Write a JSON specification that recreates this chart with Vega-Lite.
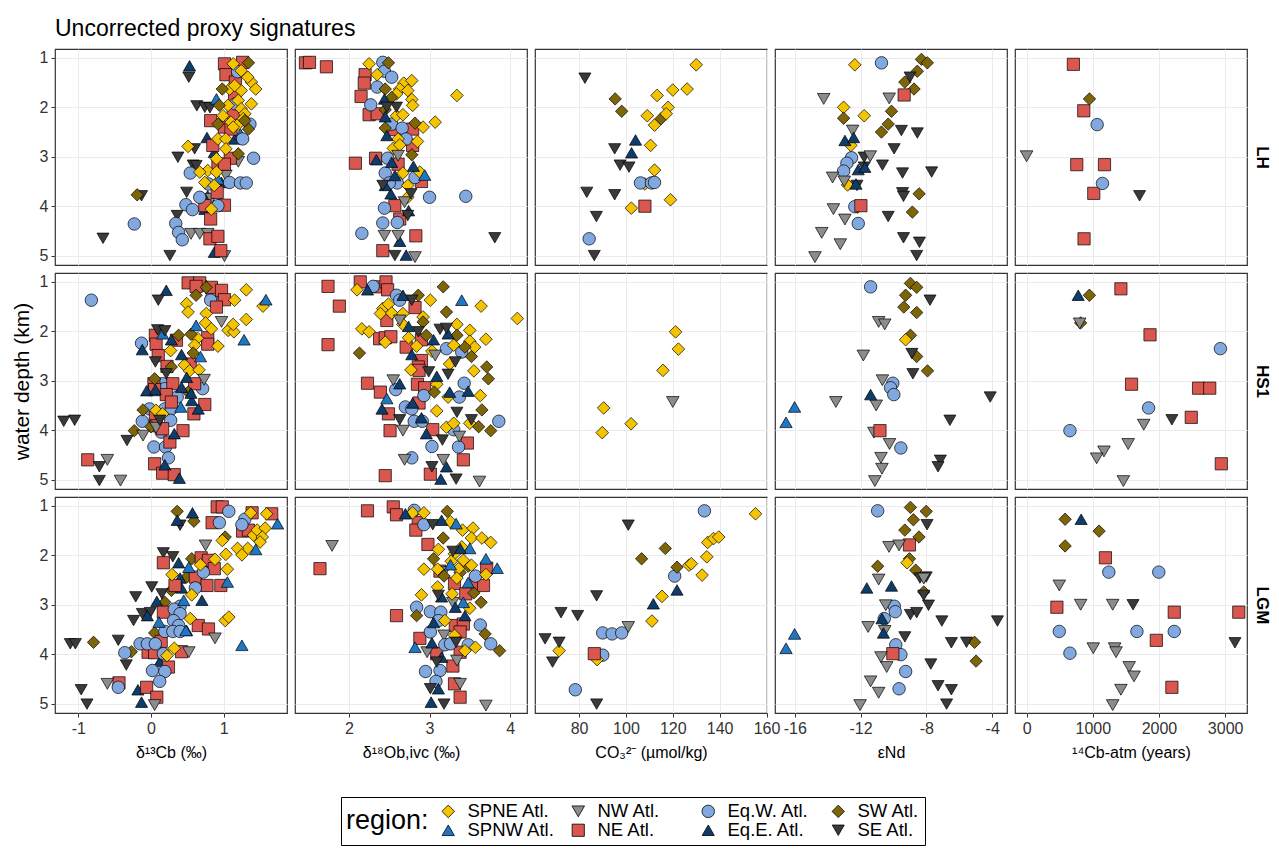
{
  "$schema": "https://vega.github.io/schema/vega-lite/v6.json",
  "padding": {"left": 10, "top": 18, "right": 5, "bottom": 0},
  "title": {"text": "Uncorrected proxy signatures", "anchor": "start", "frame": "group", "fontSize": 23, "fontWeight": "normal", "color": "black", "offset": 7},
  "columns": 5,
  "spacing": 8,
  "bounds": "flush",
  "datasets": {
    "LH_d13C": [
      {"region":"SE Atl.","value":0.52,"depth":1.39},{"region":"SE Atl.","value":0.63,"depth":1.97},{"region":"SE Atl.","value":0.74,"depth":2.0},{"region":"SE Atl.","value":0.81,"depth":2.01},{"region":"SE Atl.","value":0.37,"depth":3.01},{"region":"SE Atl.","value":0.6,"depth":2.84},{"region":"SE Atl.","value":0.58,"depth":3.17},{"region":"SE Atl.","value":0.62,"depth":3.18},{"region":"SE Atl.","value":0.49,"depth":3.72},{"region":"SE Atl.","value":-0.13,"depth":3.79},{"region":"SE Atl.","value":0.36,"depth":4.19},{"region":"SE Atl.","value":-0.66,"depth":4.65},{"region":"SE Atl.","value":0.26,"depth":5.0},
      {"region":"Eq.E. Atl.","value":0.53,"depth":1.16},{"region":"Eq.E. Atl.","value":0.77,"depth":2.61},{"region":"Eq.E. Atl.","value":1.15,"depth":2.64},{"region":"Eq.E. Atl.","value":0.87,"depth":2.91},{"region":"Eq.E. Atl.","value":0.97,"depth":3.52},{"region":"Eq.E. Atl.","value":0.74,"depth":4.06},{"region":"Eq.E. Atl.","value":0.87,"depth":4.93},{"region":"Eq.E. Atl.","value":0.78,"depth":3.79},
      {"region":"SPNW Atl.","value":0.9,"depth":1.83},{"region":"SPNW Atl.","value":1.23,"depth":2.54},{"region":"SPNW Atl.","value":0.92,"depth":3.45},
      {"region":"NW Atl.","value":1.03,"depth":3.38},{"region":"NW Atl.","value":1.2,"depth":3.1},{"region":"NW Atl.","value":0.55,"depth":4.56},{"region":"NW Atl.","value":0.67,"depth":4.56},{"region":"NW Atl.","value":0.78,"depth":4.56},{"region":"NW Atl.","value":1.01,"depth":5.01},{"region":"NW Atl.","value":0.83,"depth":3.85},
      {"region":"NE Atl.","value":1.01,"depth":1.12},{"region":"NE Atl.","value":1.26,"depth":1.09},{"region":"NE Atl.","value":1.03,"depth":1.34},{"region":"NE Atl.","value":1.16,"depth":1.49},{"region":"NE Atl.","value":1.15,"depth":1.76},{"region":"NE Atl.","value":0.82,"depth":2.27},{"region":"NE Atl.","value":1.13,"depth":2.13},{"region":"NE Atl.","value":1.01,"depth":2.4},{"region":"NE Atl.","value":1.1,"depth":2.44},{"region":"NE Atl.","value":0.85,"depth":2.77},{"region":"NE Atl.","value":1.09,"depth":3.03},{"region":"NE Atl.","value":0.92,"depth":3.15},{"region":"NE Atl.","value":1.01,"depth":3.15},{"region":"NE Atl.","value":0.91,"depth":3.72},{"region":"NE Atl.","value":1.01,"depth":3.98},{"region":"NE Atl.","value":0.74,"depth":3.99},{"region":"NE Atl.","value":0.82,"depth":4.26},{"region":"NE Atl.","value":0.81,"depth":4.66},{"region":"NE Atl.","value":0.92,"depth":4.61},{"region":"NE Atl.","value":0.96,"depth":4.9},
      {"region":"Eq.W. Atl.","value":1.19,"depth":1.28},{"region":"Eq.W. Atl.","value":1.16,"depth":1.93},{"region":"Eq.W. Atl.","value":1.36,"depth":2.34},{"region":"Eq.W. Atl.","value":1.26,"depth":2.64},{"region":"Eq.W. Atl.","value":1.41,"depth":3.03},{"region":"Eq.W. Atl.","value":0.54,"depth":3.33},{"region":"Eq.W. Atl.","value":0.79,"depth":3.55},{"region":"Eq.W. Atl.","value":1.08,"depth":3.52},{"region":"Eq.W. Atl.","value":1.23,"depth":3.53},{"region":"Eq.W. Atl.","value":1.31,"depth":3.53},{"region":"Eq.W. Atl.","value":0.67,"depth":3.82},{"region":"Eq.W. Atl.","value":0.48,"depth":3.97},{"region":"Eq.W. Atl.","value":0.57,"depth":4.07},{"region":"Eq.W. Atl.","value":0.92,"depth":3.99},{"region":"Eq.W. Atl.","value":0.34,"depth":4.35},{"region":"Eq.W. Atl.","value":0.38,"depth":4.53},{"region":"Eq.W. Atl.","value":0.43,"depth":4.68},{"region":"Eq.W. Atl.","value":-0.23,"depth":4.36},
      {"region":"SPNE Atl.","value":1.13,"depth":1.12},{"region":"SPNE Atl.","value":1.24,"depth":1.26},{"region":"SPNE Atl.","value":1.38,"depth":1.49},{"region":"SPNE Atl.","value":1.44,"depth":1.63},{"region":"SPNE Atl.","value":1.08,"depth":1.63},{"region":"SPNE Atl.","value":1.24,"depth":1.66},{"region":"SPNE Atl.","value":1.2,"depth":1.86},{"region":"SPNE Atl.","value":1.38,"depth":1.93},{"region":"SPNE Atl.","value":1.06,"depth":1.96},{"region":"SPNE Atl.","value":1.24,"depth":2.03},{"region":"SPNE Atl.","value":0.99,"depth":2.17},{"region":"SPNE Atl.","value":1.29,"depth":2.13},{"region":"SPNE Atl.","value":1.1,"depth":2.3},{"region":"SPNE Atl.","value":1.2,"depth":2.34},{"region":"SPNE Atl.","value":1.13,"depth":2.4},{"region":"SPNE Atl.","value":1.27,"depth":2.23},{"region":"SPNE Atl.","value":0.92,"depth":2.64},{"region":"SPNE Atl.","value":1.03,"depth":2.64},{"region":"SPNE Atl.","value":1.03,"depth":2.84},{"region":"SPNE Atl.","value":0.51,"depth":2.79},{"region":"SPNE Atl.","value":0.78,"depth":3.28},{"region":"SPNE Atl.","value":0.9,"depth":3.31},{"region":"SPNE Atl.","value":0.67,"depth":3.31},{"region":"SPNE Atl.","value":0.74,"depth":3.52},{"region":"SPNE Atl.","value":0.87,"depth":3.58},{"region":"SPNE Atl.","value":0.83,"depth":4.06},{"region":"SPNE Atl.","value":0.9,"depth":3.04},{"region":"SPNE Atl.","value":1.15,"depth":1.56},{"region":"SPNE Atl.","value":1.33,"depth":1.39},
      {"region":"SW Atl.","value":1.34,"depth":1.1},{"region":"SW Atl.","value":0.98,"depth":1.63},{"region":"SW Atl.","value":0.92,"depth":2.34},{"region":"SW Atl.","value":1.34,"depth":2.44},{"region":"SW Atl.","value":1.29,"depth":2.27},{"region":"SW Atl.","value":1.2,"depth":2.94},{"region":"SW Atl.","value":-0.19,"depth":3.77},{"region":"SW Atl.","value":0.94,"depth":1.96}
    ],
    "LH_d18O": [
      {"region":"NE Atl.","value":1.46,"depth":1.1},{"region":"NE Atl.","value":1.51,"depth":1.09},{"region":"NE Atl.","value":1.72,"depth":1.18},{"region":"NE Atl.","value":2.2,"depth":1.34},{"region":"NE Atl.","value":2.19,"depth":1.51},{"region":"NE Atl.","value":2.15,"depth":1.78},{"region":"NE Atl.","value":2.25,"depth":2.15},{"region":"NE Atl.","value":2.35,"depth":2.13},{"region":"NE Atl.","value":2.56,"depth":2.45},{"region":"NE Atl.","value":2.79,"depth":2.44},{"region":"NE Atl.","value":2.79,"depth":2.77},{"region":"NE Atl.","value":2.08,"depth":3.13},{"region":"NE Atl.","value":2.33,"depth":3.03},{"region":"NE Atl.","value":2.61,"depth":3.15},{"region":"NE Atl.","value":2.9,"depth":3.5},{"region":"NE Atl.","value":2.57,"depth":3.99},{"region":"NE Atl.","value":2.63,"depth":4.26},{"region":"NE Atl.","value":2.83,"depth":4.6},{"region":"NE Atl.","value":2.42,"depth":4.9},
      {"region":"Eq.W. Atl.","value":2.42,"depth":1.09},{"region":"Eq.W. Atl.","value":2.44,"depth":1.27},{"region":"Eq.W. Atl.","value":2.53,"depth":1.39},{"region":"Eq.W. Atl.","value":2.35,"depth":1.59},{"region":"Eq.W. Atl.","value":2.27,"depth":1.95},{"region":"Eq.W. Atl.","value":2.53,"depth":2.34},{"region":"Eq.W. Atl.","value":2.66,"depth":2.42},{"region":"Eq.W. Atl.","value":2.71,"depth":2.64},{"region":"Eq.W. Atl.","value":2.48,"depth":3.03},{"region":"Eq.W. Atl.","value":2.45,"depth":3.33},{"region":"Eq.W. Atl.","value":2.6,"depth":3.53},{"region":"Eq.W. Atl.","value":2.82,"depth":3.42},{"region":"Eq.W. Atl.","value":3.0,"depth":3.82},{"region":"Eq.W. Atl.","value":3.45,"depth":3.8},{"region":"Eq.W. Atl.","value":2.44,"depth":4.04},{"region":"Eq.W. Atl.","value":2.42,"depth":4.34},{"region":"Eq.W. Atl.","value":2.6,"depth":4.33},{"region":"Eq.W. Atl.","value":2.16,"depth":4.55},{"region":"Eq.W. Atl.","value":2.5,"depth":3.53},
      {"region":"SPNE Atl.","value":2.25,"depth":1.12},{"region":"SPNE Atl.","value":2.35,"depth":1.34},{"region":"SPNE Atl.","value":2.68,"depth":1.51},{"region":"SPNE Atl.","value":2.78,"depth":1.46},{"region":"SPNE Atl.","value":2.63,"depth":1.63},{"region":"SPNE Atl.","value":2.73,"depth":1.66},{"region":"SPNE Atl.","value":2.59,"depth":1.73},{"region":"SPNE Atl.","value":2.78,"depth":1.84},{"region":"SPNE Atl.","value":2.79,"depth":1.96},{"region":"SPNE Atl.","value":3.34,"depth":1.76},{"region":"SPNE Atl.","value":2.59,"depth":2.17},{"region":"SPNE Atl.","value":2.67,"depth":2.15},{"region":"SPNE Atl.","value":2.92,"depth":2.4},{"region":"SPNE Atl.","value":3.07,"depth":2.3},{"region":"SPNE Atl.","value":2.61,"depth":2.64},{"region":"SPNE Atl.","value":2.55,"depth":2.83},{"region":"SPNE Atl.","value":2.63,"depth":2.76},{"region":"SPNE Atl.","value":2.85,"depth":2.69},{"region":"SPNE Atl.","value":2.67,"depth":3.33},{"region":"SPNE Atl.","value":2.88,"depth":3.31},{"region":"SPNE Atl.","value":2.73,"depth":3.58},{"region":"SPNE Atl.","value":2.73,"depth":3.82},
      {"region":"SW Atl.","value":2.49,"depth":1.1},{"region":"SW Atl.","value":2.45,"depth":1.63},{"region":"SW Atl.","value":2.53,"depth":1.8},{"region":"SW Atl.","value":2.45,"depth":2.05},{"region":"SW Atl.","value":2.45,"depth":2.42},{"region":"SW Atl.","value":2.82,"depth":2.32},{"region":"SW Atl.","value":2.78,"depth":2.96},
      {"region":"Eq.E. Atl.","value":2.44,"depth":1.83},{"region":"Eq.E. Atl.","value":2.45,"depth":2.19},{"region":"Eq.E. Atl.","value":2.47,"depth":2.57},{"region":"Eq.E. Atl.","value":2.34,"depth":3.06},{"region":"Eq.E. Atl.","value":2.53,"depth":3.11},{"region":"Eq.E. Atl.","value":2.8,"depth":3.19},{"region":"Eq.E. Atl.","value":2.57,"depth":3.38},{"region":"Eq.E. Atl.","value":2.52,"depth":3.75},{"region":"Eq.E. Atl.","value":2.74,"depth":4.09},{"region":"Eq.E. Atl.","value":2.63,"depth":4.71},{"region":"Eq.E. Atl.","value":2.71,"depth":4.99},{"region":"Eq.E. Atl.","value":2.45,"depth":3.58},
      {"region":"SPNW Atl.","value":2.94,"depth":3.37},
      {"region":"NW Atl.","value":2.61,"depth":2.98},{"region":"NW Atl.","value":2.69,"depth":3.92},{"region":"NW Atl.","value":2.44,"depth":4.6},{"region":"NW Atl.","value":2.61,"depth":4.6},{"region":"NW Atl.","value":2.82,"depth":5.03},
      {"region":"SE Atl.","value":2.59,"depth":2.0},{"region":"SE Atl.","value":2.47,"depth":2.0},{"region":"SE Atl.","value":2.42,"depth":3.58},{"region":"SE Atl.","value":2.77,"depth":3.75},{"region":"SE Atl.","value":2.73,"depth":4.19},{"region":"SE Atl.","value":3.81,"depth":4.64},{"region":"SE Atl.","value":2.57,"depth":5.0}
    ],
    "LH_CO3": [
      {"region":"SE Atl.","value":82.5,"depth":1.41},{"region":"SE Atl.","value":95.2,"depth":2.84},{"region":"SE Atl.","value":97.5,"depth":3.17},{"region":"SE Atl.","value":101.3,"depth":3.21},{"region":"SE Atl.","value":83.3,"depth":3.72},{"region":"SE Atl.","value":95.2,"depth":3.77},{"region":"SE Atl.","value":87.4,"depth":4.21},{"region":"SE Atl.","value":86.5,"depth":5.0},
      {"region":"SW Atl.","value":95.4,"depth":1.83},{"region":"SW Atl.","value":98.2,"depth":2.08},{"region":"SW Atl.","value":115.0,"depth":2.23},
      {"region":"SPNE Atl.","value":130.0,"depth":1.14},{"region":"SPNE Atl.","value":113.3,"depth":1.76},{"region":"SPNE Atl.","value":120.0,"depth":1.65},{"region":"SPNE Atl.","value":126.1,"depth":1.63},{"region":"SPNE Atl.","value":118.0,"depth":2.0},{"region":"SPNE Atl.","value":117.2,"depth":2.13},{"region":"SPNE Atl.","value":109.1,"depth":2.17},{"region":"SPNE Atl.","value":112.2,"depth":2.36},{"region":"SPNE Atl.","value":110.5,"depth":2.77},{"region":"SPNE Atl.","value":112.2,"depth":3.27},{"region":"SPNE Atl.","value":108.1,"depth":3.55},{"region":"SPNE Atl.","value":119.0,"depth":3.87},{"region":"SPNE Atl.","value":102.3,"depth":4.04},
      {"region":"Eq.E. Atl.","value":104.1,"depth":2.66},{"region":"Eq.E. Atl.","value":102.4,"depth":2.92},
      {"region":"Eq.W. Atl.","value":106.2,"depth":3.53},{"region":"Eq.W. Atl.","value":110.9,"depth":3.53},{"region":"Eq.W. Atl.","value":112.2,"depth":3.52},{"region":"Eq.W. Atl.","value":84.3,"depth":4.66},
      {"region":"NE Atl.","value":108.1,"depth":4.0}
    ],
    "LH_eNd": [
      {"region":"SPNE Atl.","value":-12.35,"depth":1.14},{"region":"SPNE Atl.","value":-13.03,"depth":2.0},{"region":"SPNE Atl.","value":-11.78,"depth":2.17},{"region":"SPNE Atl.","value":-12.59,"depth":2.77},{"region":"SPNE Atl.","value":-12.79,"depth":3.57},{"region":"SPNE Atl.","value":-12.18,"depth":4.02},
      {"region":"Eq.W. Atl.","value":-10.73,"depth":1.1},{"region":"Eq.W. Atl.","value":-12.55,"depth":3.02},{"region":"Eq.W. Atl.","value":-12.83,"depth":3.13},{"region":"Eq.W. Atl.","value":-13.03,"depth":3.29},{"region":"Eq.W. Atl.","value":-12.35,"depth":4.01},{"region":"Eq.W. Atl.","value":-12.14,"depth":4.35},
      {"region":"SW Atl.","value":-8.3,"depth":1.03},{"region":"SW Atl.","value":-7.94,"depth":1.1},{"region":"SW Atl.","value":-8.55,"depth":1.27},{"region":"SW Atl.","value":-9.31,"depth":1.49},{"region":"SW Atl.","value":-8.75,"depth":1.63},{"region":"SW Atl.","value":-10.12,"depth":2.08},{"region":"SW Atl.","value":-13.03,"depth":2.22},{"region":"SW Atl.","value":-10.32,"depth":2.34},{"region":"SW Atl.","value":-10.73,"depth":2.5},{"region":"SW Atl.","value":-8.44,"depth":3.75},{"region":"SW Atl.","value":-8.85,"depth":4.12},
      {"region":"NE Atl.","value":-9.35,"depth":1.75},{"region":"NE Atl.","value":-11.98,"depth":3.99},
      {"region":"SE Atl.","value":-8.99,"depth":1.39},{"region":"SE Atl.","value":-9.52,"depth":2.47},{"region":"SE Atl.","value":-8.55,"depth":2.52},{"region":"SE Atl.","value":-9.96,"depth":2.84},{"region":"SE Atl.","value":-11.78,"depth":3.01},{"region":"SE Atl.","value":-11.78,"depth":3.21},{"region":"SE Atl.","value":-10.67,"depth":3.17},{"region":"SE Atl.","value":-9.45,"depth":3.33},{"region":"SE Atl.","value":-7.68,"depth":3.31},{"region":"SE Atl.","value":-9.45,"depth":3.73},{"region":"SE Atl.","value":-9.39,"depth":3.8},{"region":"SE Atl.","value":-10.32,"depth":4.21},{"region":"SE Atl.","value":-9.39,"depth":4.64},{"region":"SE Atl.","value":-8.42,"depth":4.73},{"region":"SE Atl.","value":-8.59,"depth":5.0},{"region":"SE Atl.","value":-12.22,"depth":3.58},
      {"region":"NW Atl.","value":-14.24,"depth":1.83},{"region":"NW Atl.","value":-10.26,"depth":1.82},{"region":"NW Atl.","value":-12.48,"depth":2.47},{"region":"NW Atl.","value":-11.41,"depth":2.99},{"region":"NW Atl.","value":-13.7,"depth":3.42},{"region":"NW Atl.","value":-12.99,"depth":3.5},{"region":"NW Atl.","value":-13.65,"depth":4.06},{"region":"NW Atl.","value":-12.95,"depth":4.27},{"region":"NW Atl.","value":-14.36,"depth":4.54},{"region":"NW Atl.","value":-13.23,"depth":4.77},{"region":"NW Atl.","value":-14.77,"depth":5.03},
      {"region":"Eq.E. Atl.","value":-12.95,"depth":2.67},{"region":"Eq.E. Atl.","value":-12.42,"depth":2.61},{"region":"Eq.E. Atl.","value":-12.14,"depth":3.26},{"region":"Eq.E. Atl.","value":-11.74,"depth":3.21},{"region":"Eq.E. Atl.","value":-12.28,"depth":3.55}
    ],
    "LH_14C": [
      {"region":"NE Atl.","value":707,"depth":1.13},{"region":"NE Atl.","value":864,"depth":2.07},{"region":"NE Atl.","value":758,"depth":3.16},{"region":"NE Atl.","value":1177,"depth":3.16},{"region":"NE Atl.","value":1015,"depth":3.74},{"region":"NE Atl.","value":868,"depth":4.66},
      {"region":"SW Atl.","value":950,"depth":1.83},
      {"region":"Eq.W. Atl.","value":1066,"depth":2.35},{"region":"Eq.W. Atl.","value":1146,"depth":3.54},
      {"region":"NW Atl.","value":0,"depth":2.99},
      {"region":"SE Atl.","value":1707,"depth":3.79}
    ],
    "HS1_d13C": [
      {"region":"Eq.W. Atl.","value":-0.82,"depth":1.37},{"region":"Eq.W. Atl.","value":0.71,"depth":1.07},{"region":"Eq.W. Atl.","value":0.84,"depth":1.29},{"region":"Eq.W. Atl.","value":0.82,"depth":1.37},{"region":"Eq.W. Atl.","value":-0.13,"depth":2.24},{"region":"Eq.W. Atl.","value":0.16,"depth":3.06},{"region":"Eq.W. Atl.","value":0.19,"depth":3.16},{"region":"Eq.W. Atl.","value":0.71,"depth":3.16},{"region":"Eq.W. Atl.","value":0.36,"depth":3.33},{"region":"Eq.W. Atl.","value":-0.02,"depth":3.57},{"region":"Eq.W. Atl.","value":0.19,"depth":3.57},{"region":"Eq.W. Atl.","value":0.28,"depth":3.57},{"region":"Eq.W. Atl.","value":-0.12,"depth":3.82},{"region":"Eq.W. Atl.","value":0.27,"depth":3.8},{"region":"Eq.W. Atl.","value":0.14,"depth":4.04},{"region":"Eq.W. Atl.","value":0.04,"depth":4.34},{"region":"Eq.W. Atl.","value":0.2,"depth":4.34},{"region":"Eq.W. Atl.","value":0.24,"depth":4.56},
      {"region":"NE Atl.","value":0.51,"depth":1.02},{"region":"NE Atl.","value":0.67,"depth":1.02},{"region":"NE Atl.","value":0.62,"depth":1.09},{"region":"NE Atl.","value":0.83,"depth":1.11},{"region":"NE Atl.","value":0.97,"depth":1.17},{"region":"NE Atl.","value":1.01,"depth":1.36},{"region":"NE Atl.","value":0.9,"depth":1.51},{"region":"NE Atl.","value":0.06,"depth":2.08},{"region":"NE Atl.","value":0.07,"depth":2.26},{"region":"NE Atl.","value":0.35,"depth":2.18},{"region":"NE Atl.","value":0.78,"depth":2.13},{"region":"NE Atl.","value":0.78,"depth":2.26},{"region":"NE Atl.","value":0.1,"depth":2.49},{"region":"NE Atl.","value":0.22,"depth":2.71},{"region":"NE Atl.","value":0.54,"depth":2.66},{"region":"NE Atl.","value":0.6,"depth":3.06},{"region":"NE Atl.","value":0.04,"depth":3.06},{"region":"NE Atl.","value":0.3,"depth":3.06},{"region":"NE Atl.","value":0.05,"depth":3.18},{"region":"NE Atl.","value":0.21,"depth":3.28},{"region":"NE Atl.","value":0.28,"depth":3.43},{"region":"NE Atl.","value":0.74,"depth":3.48},{"region":"NE Atl.","value":0.59,"depth":3.67},{"region":"NE Atl.","value":0.06,"depth":3.74},{"region":"NE Atl.","value":0.07,"depth":3.91},{"region":"NE Atl.","value":0.16,"depth":3.97},{"region":"NE Atl.","value":0.44,"depth":4.01},{"region":"NE Atl.","value":0.26,"depth":4.24},{"region":"NE Atl.","value":-0.87,"depth":4.6},{"region":"NE Atl.","value":0.05,"depth":4.68},{"region":"NE Atl.","value":0.16,"depth":4.87},{"region":"NE Atl.","value":0.32,"depth":4.9},
      {"region":"SPNE Atl.","value":1.31,"depth":1.16},{"region":"SPNE Atl.","value":1.15,"depth":1.37},{"region":"SPNE Atl.","value":1.54,"depth":1.49},{"region":"SPNE Atl.","value":1.31,"depth":1.76},{"region":"SPNE Atl.","value":0.49,"depth":1.44},{"region":"SPNE Atl.","value":0.51,"depth":1.61},{"region":"SPNE Atl.","value":0.76,"depth":1.64},{"region":"SPNE Atl.","value":0.75,"depth":1.83},{"region":"SPNE Atl.","value":0.83,"depth":1.95},{"region":"SPNE Atl.","value":1.06,"depth":1.98},{"region":"SPNE Atl.","value":1.14,"depth":2.01},{"region":"SPNE Atl.","value":1.13,"depth":1.86},{"region":"SPNE Atl.","value":0.64,"depth":2.14},{"region":"SPNE Atl.","value":0.6,"depth":2.28},{"region":"SPNE Atl.","value":0.92,"depth":2.3},{"region":"SPNE Atl.","value":0.27,"depth":2.39},{"region":"SPNE Atl.","value":0.46,"depth":2.68},{"region":"SPNE Atl.","value":0.53,"depth":2.8},{"region":"SPNE Atl.","value":0.66,"depth":2.78},{"region":"SPNE Atl.","value":0.07,"depth":3.6},{"region":"SPNE Atl.","value":0.16,"depth":3.67},
      {"region":"SW Atl.","value":0.62,"depth":1.27},{"region":"SW Atl.","value":0.76,"depth":1.11},{"region":"SW Atl.","value":0.38,"depth":2.08},{"region":"SW Atl.","value":0.55,"depth":2.06},{"region":"SW Atl.","value":0.58,"depth":2.44},{"region":"SW Atl.","value":0.28,"depth":2.72},{"region":"SW Atl.","value":0.05,"depth":2.96},{"region":"SW Atl.","value":0.51,"depth":3.23},{"region":"SW Atl.","value":-0.11,"depth":3.59},{"region":"SW Atl.","value":-0.23,"depth":4.01},{"region":"SW Atl.","value":0.0,"depth":3.93},
      {"region":"Eq.E. Atl.","value":0.21,"depth":1.17},{"region":"Eq.E. Atl.","value":-0.12,"depth":2.37},{"region":"Eq.E. Atl.","value":0.28,"depth":2.17},{"region":"Eq.E. Atl.","value":0.42,"depth":2.47},{"region":"Eq.E. Atl.","value":0.49,"depth":2.93},{"region":"Eq.E. Atl.","value":-0.06,"depth":3.2},{"region":"Eq.E. Atl.","value":0.06,"depth":3.18},{"region":"Eq.E. Atl.","value":0.42,"depth":3.13},{"region":"Eq.E. Atl.","value":0.56,"depth":3.4},{"region":"Eq.E. Atl.","value":0.65,"depth":3.57},{"region":"Eq.E. Atl.","value":0.32,"depth":4.07},{"region":"Eq.E. Atl.","value":0.19,"depth":4.7},{"region":"Eq.E. Atl.","value":0.39,"depth":4.97},{"region":"Eq.E. Atl.","value":0.55,"depth":3.25},
      {"region":"SPNW Atl.","value":1.58,"depth":1.36},{"region":"SPNW Atl.","value":1.28,"depth":2.17},{"region":"SPNW Atl.","value":0.68,"depth":2.51},{"region":"SPNW Atl.","value":0.62,"depth":1.88},{"region":"SPNW Atl.","value":0.16,"depth":2.05},{"region":"SPNW Atl.","value":0.41,"depth":3.53},
      {"region":"NW Atl.","value":0.97,"depth":1.81},{"region":"NW Atl.","value":0.73,"depth":2.98},{"region":"NW Atl.","value":-0.11,"depth":4.11},{"region":"NW Atl.","value":-0.6,"depth":4.6},{"region":"NW Atl.","value":-0.42,"depth":5.02},{"region":"NW Atl.","value":0.07,"depth":3.95},
      {"region":"SE Atl.","value":0.1,"depth":1.37},{"region":"SE Atl.","value":0.09,"depth":1.97},{"region":"SE Atl.","value":0.19,"depth":1.99},{"region":"SE Atl.","value":0.06,"depth":2.62},{"region":"SE Atl.","value":0.21,"depth":2.86},{"region":"SE Atl.","value":-1.2,"depth":3.82},{"region":"SE Atl.","value":-1.05,"depth":3.8},{"region":"SE Atl.","value":-0.33,"depth":4.21},{"region":"SE Atl.","value":-0.71,"depth":4.74},{"region":"SE Atl.","value":-0.71,"depth":5.02},{"region":"SE Atl.","value":0.12,"depth":3.8}
    ],
    "HS1_d18O": [
      {"region":"NE Atl.","value":1.74,"depth":1.09},{"region":"NE Atl.","value":2.14,"depth":1.0},{"region":"NE Atl.","value":2.38,"depth":1.1},{"region":"NE Atl.","value":2.46,"depth":1.0},{"region":"NE Atl.","value":2.48,"depth":1.16},{"region":"NE Atl.","value":1.88,"depth":1.49},{"region":"NE Atl.","value":2.82,"depth":1.52},{"region":"NE Atl.","value":2.47,"depth":1.78},{"region":"NE Atl.","value":2.38,"depth":2.15},{"region":"NE Atl.","value":2.45,"depth":2.13},{"region":"NE Atl.","value":2.52,"depth":2.11},{"region":"NE Atl.","value":1.74,"depth":2.27},{"region":"NE Atl.","value":2.71,"depth":2.32},{"region":"NE Atl.","value":2.9,"depth":2.17},{"region":"NE Atl.","value":2.9,"depth":2.59},{"region":"NE Atl.","value":2.86,"depth":2.72},{"region":"NE Atl.","value":2.87,"depth":2.79},{"region":"NE Atl.","value":2.23,"depth":3.05},{"region":"NE Atl.","value":2.85,"depth":3.07},{"region":"NE Atl.","value":2.94,"depth":3.14},{"region":"NE Atl.","value":2.39,"depth":3.23},{"region":"NE Atl.","value":2.87,"depth":3.45},{"region":"NE Atl.","value":2.49,"depth":3.67},{"region":"NE Atl.","value":3.04,"depth":3.99},{"region":"NE Atl.","value":2.51,"depth":4.01},{"region":"NE Atl.","value":3.47,"depth":4.26},{"region":"NE Atl.","value":3.42,"depth":4.6},{"region":"NE Atl.","value":2.45,"depth":4.92},{"region":"NE Atl.","value":3.01,"depth":4.89},
      {"region":"Eq.W. Atl.","value":2.3,"depth":1.09},{"region":"Eq.W. Atl.","value":2.59,"depth":1.27},{"region":"Eq.W. Atl.","value":2.63,"depth":1.37},{"region":"Eq.W. Atl.","value":3.4,"depth":2.42},{"region":"Eq.W. Atl.","value":3.21,"depth":2.35},{"region":"Eq.W. Atl.","value":3.43,"depth":3.05},{"region":"Eq.W. Atl.","value":2.58,"depth":3.18},{"region":"Eq.W. Atl.","value":3.37,"depth":3.33},{"region":"Eq.W. Atl.","value":2.93,"depth":3.3},{"region":"Eq.W. Atl.","value":2.7,"depth":3.53},{"region":"Eq.W. Atl.","value":2.78,"depth":3.57},{"region":"Eq.W. Atl.","value":2.81,"depth":3.82},{"region":"Eq.W. Atl.","value":2.91,"depth":3.82},{"region":"Eq.W. Atl.","value":3.3,"depth":3.99},{"region":"Eq.W. Atl.","value":3.86,"depth":3.82},{"region":"Eq.W. Atl.","value":3.03,"depth":4.33},{"region":"Eq.W. Atl.","value":3.36,"depth":4.34},{"region":"Eq.W. Atl.","value":2.78,"depth":4.56},
      {"region":"SPNE Atl.","value":2.1,"depth":1.16},{"region":"SPNE Atl.","value":3.01,"depth":1.37},{"region":"SPNE Atl.","value":3.64,"depth":1.49},{"region":"SPNE Atl.","value":4.09,"depth":1.74},{"region":"SPNE Atl.","value":2.42,"depth":1.54},{"region":"SPNE Atl.","value":2.49,"depth":1.45},{"region":"SPNE Atl.","value":2.39,"depth":1.64},{"region":"SPNE Atl.","value":2.53,"depth":1.63},{"region":"SPNE Atl.","value":2.67,"depth":1.64},{"region":"SPNE Atl.","value":2.67,"depth":1.86},{"region":"SPNE Atl.","value":2.92,"depth":1.71},{"region":"SPNE Atl.","value":3.34,"depth":1.86},{"region":"SPNE Atl.","value":2.16,"depth":1.95},{"region":"SPNE Atl.","value":2.25,"depth":2.01},{"region":"SPNE Atl.","value":2.45,"depth":2.22},{"region":"SPNE Atl.","value":2.74,"depth":2.13},{"region":"SPNE Atl.","value":2.84,"depth":2.3},{"region":"SPNE Atl.","value":3.03,"depth":2.4},{"region":"SPNE Atl.","value":3.3,"depth":2.28},{"region":"SPNE Atl.","value":3.5,"depth":1.98},{"region":"SPNE Atl.","value":3.5,"depth":2.2},{"region":"SPNE Atl.","value":3.7,"depth":2.16},{"region":"SPNE Atl.","value":3.56,"depth":2.32},{"region":"SPNE Atl.","value":3.25,"depth":2.66},{"region":"SPNE Atl.","value":3.55,"depth":2.8},{"region":"SPNE Atl.","value":2.77,"depth":2.78},{"region":"SPNE Atl.","value":3.09,"depth":3.07},{"region":"SPNE Atl.","value":3.63,"depth":3.3},{"region":"SPNE Atl.","value":3.23,"depth":3.33},{"region":"SPNE Atl.","value":3.09,"depth":3.61},{"region":"SPNE Atl.","value":3.5,"depth":3.86},{"region":"SPNE Atl.","value":3.21,"depth":3.94},{"region":"SPNE Atl.","value":3.3,"depth":3.86},
      {"region":"SW Atl.","value":3.17,"depth":1.1},{"region":"SW Atl.","value":2.86,"depth":1.27},{"region":"SW Atl.","value":3.21,"depth":1.61},{"region":"SW Atl.","value":2.92,"depth":1.81},{"region":"SW Atl.","value":2.96,"depth":2.08},{"region":"SW Atl.","value":3.34,"depth":2.08},{"region":"SW Atl.","value":3.44,"depth":2.32},{"region":"SW Atl.","value":3.52,"depth":2.51},{"region":"SW Atl.","value":2.13,"depth":2.44},{"region":"SW Atl.","value":3.71,"depth":2.72},{"region":"SW Atl.","value":3.73,"depth":2.96},{"region":"SW Atl.","value":3.06,"depth":3.23},{"region":"SW Atl.","value":3.65,"depth":3.59},{"region":"SW Atl.","value":3.61,"depth":3.93},{"region":"SW Atl.","value":3.76,"depth":4.01},
      {"region":"Eq.E. Atl.","value":2.23,"depth":1.16},{"region":"Eq.E. Atl.","value":2.67,"depth":1.27},{"region":"Eq.E. Atl.","value":2.74,"depth":1.9},{"region":"Eq.E. Atl.","value":3.05,"depth":2.17},{"region":"Eq.E. Atl.","value":3.23,"depth":2.05},{"region":"Eq.E. Atl.","value":2.78,"depth":2.47},{"region":"Eq.E. Atl.","value":3.09,"depth":2.91},{"region":"Eq.E. Atl.","value":2.63,"depth":3.06},{"region":"Eq.E. Atl.","value":3.25,"depth":3.23},{"region":"Eq.E. Atl.","value":3.48,"depth":3.21},{"region":"Eq.E. Atl.","value":2.41,"depth":3.57},{"region":"Eq.E. Atl.","value":2.79,"depth":3.45},{"region":"Eq.E. Atl.","value":2.9,"depth":3.75},{"region":"Eq.E. Atl.","value":2.96,"depth":4.07},{"region":"Eq.E. Atl.","value":3.21,"depth":4.74},{"region":"Eq.E. Atl.","value":3.14,"depth":4.99},
      {"region":"SPNW Atl.","value":3.4,"depth":1.37},{"region":"SPNW Atl.","value":2.47,"depth":3.36},
      {"region":"NW Atl.","value":2.63,"depth":1.78},{"region":"NW Atl.","value":3.07,"depth":2.49},{"region":"NW Atl.","value":2.55,"depth":2.99},{"region":"NW Atl.","value":2.67,"depth":4.01},{"region":"NW Atl.","value":3.37,"depth":4.13},{"region":"NW Atl.","value":2.69,"depth":4.6},{"region":"NW Atl.","value":3.17,"depth":4.6},{"region":"NW Atl.","value":3.62,"depth":5.04},
      {"region":"SE Atl.","value":2.78,"depth":1.37},{"region":"SE Atl.","value":2.86,"depth":2.01},{"region":"SE Atl.","value":3.13,"depth":1.96},{"region":"SE Atl.","value":3.21,"depth":1.94},{"region":"SE Atl.","value":2.99,"depth":2.82},{"region":"SE Atl.","value":3.23,"depth":2.87},{"region":"SE Atl.","value":2.63,"depth":3.79},{"region":"SE Atl.","value":3.16,"depth":4.2},{"region":"SE Atl.","value":3.34,"depth":3.64},{"region":"SE Atl.","value":3.52,"depth":3.79},{"region":"SE Atl.","value":3.03,"depth":4.74},{"region":"SE Atl.","value":3.33,"depth":4.99},{"region":"SE Atl.","value":3.32,"depth":2.62}
    ],
    "HS1_CO3": [
      {"region":"SPNE Atl.","value":121.2,"depth":2.01},{"region":"SPNE Atl.","value":122.4,"depth":2.36},{"region":"SPNE Atl.","value":115.8,"depth":2.79},{"region":"SPNE Atl.","value":90.5,"depth":3.55},{"region":"SPNE Atl.","value":102.2,"depth":3.87},{"region":"SPNE Atl.","value":89.9,"depth":4.05},
      {"region":"NW Atl.","value":120.0,"depth":3.43}
    ],
    "HS1_eNd": [
      {"region":"Eq.W. Atl.","value":-11.39,"depth":1.1},{"region":"Eq.W. Atl.","value":-10.04,"depth":3.05},{"region":"Eq.W. Atl.","value":-10.18,"depth":3.14},{"region":"Eq.W. Atl.","value":-9.98,"depth":3.28},{"region":"Eq.W. Atl.","value":-9.55,"depth":4.36},
      {"region":"SW Atl.","value":-8.97,"depth":1.03},{"region":"SW Atl.","value":-8.59,"depth":1.11},{"region":"SW Atl.","value":-9.26,"depth":1.27},{"region":"SW Atl.","value":-9.37,"depth":1.51},{"region":"SW Atl.","value":-8.59,"depth":1.62},{"region":"SW Atl.","value":-8.97,"depth":2.08},{"region":"SW Atl.","value":-8.59,"depth":2.51},{"region":"SW Atl.","value":-7.93,"depth":2.8},
      {"region":"SPNE Atl.","value":-9.26,"depth":2.17},
      {"region":"SE Atl.","value":-7.78,"depth":1.37},{"region":"SE Atl.","value":-8.88,"depth":2.45},{"region":"SE Atl.","value":-8.82,"depth":2.86},{"region":"SE Atl.","value":-4.12,"depth":3.33},{"region":"SE Atl.","value":-6.57,"depth":3.8},{"region":"SE Atl.","value":-7.15,"depth":4.61},{"region":"SE Atl.","value":-7.29,"depth":4.74},
      {"region":"NW Atl.","value":-10.9,"depth":1.81},{"region":"NW Atl.","value":-10.53,"depth":1.86},{"region":"NW Atl.","value":-11.83,"depth":2.49},{"region":"NW Atl.","value":-10.67,"depth":2.99},{"region":"NW Atl.","value":-13.5,"depth":3.43},{"region":"NW Atl.","value":-11.05,"depth":3.5},{"region":"NW Atl.","value":-11.19,"depth":4.05},{"region":"NW Atl.","value":-10.24,"depth":4.28},{"region":"NW Atl.","value":-10.76,"depth":4.56},{"region":"NW Atl.","value":-10.7,"depth":4.78},{"region":"NW Atl.","value":-11.13,"depth":5.03},
      {"region":"Eq.E. Atl.","value":-11.39,"depth":3.28},
      {"region":"SPNW Atl.","value":-16.01,"depth":3.53},{"region":"SPNW Atl.","value":-16.53,"depth":3.84},
      {"region":"NE Atl.","value":-10.82,"depth":4.01}
    ],
    "HS1_14C": [
      {"region":"Eq.E. Atl.","value":780,"depth":1.27},
      {"region":"SW Atl.","value":949,"depth":1.27},{"region":"SW Atl.","value":817,"depth":1.83},
      {"region":"NE Atl.","value":1425,"depth":1.14},{"region":"NE Atl.","value":1865,"depth":2.07},{"region":"NE Atl.","value":1586,"depth":3.07},{"region":"NE Atl.","value":2598,"depth":3.15},{"region":"NE Atl.","value":2767,"depth":3.15},{"region":"NE Atl.","value":2488,"depth":3.74},{"region":"NE Atl.","value":2942,"depth":4.68},
      {"region":"NW Atl.","value":802,"depth":1.84},{"region":"NW Atl.","value":1770,"depth":3.89},{"region":"NW Atl.","value":1535,"depth":4.28},{"region":"NW Atl.","value":1169,"depth":4.43},{"region":"NW Atl.","value":1059,"depth":4.57},{"region":"NW Atl.","value":1462,"depth":5.03},
      {"region":"Eq.W. Atl.","value":2928,"depth":2.35},{"region":"Eq.W. Atl.","value":1843,"depth":3.55},{"region":"Eq.W. Atl.","value":655,"depth":4.01},
      {"region":"SE Atl.","value":2195,"depth":3.79}
    ],
    "LGM_d13C": [
      {"region":"SW Atl.","value":0.36,"depth":1.11},{"region":"SW Atl.","value":0.59,"depth":1.31},{"region":"SW Atl.","value":1.02,"depth":1.63},{"region":"SW Atl.","value":0.56,"depth":2.07},{"region":"SW Atl.","value":0.74,"depth":2.3},{"region":"SW Atl.","value":0.49,"depth":2.44},{"region":"SW Atl.","value":0.28,"depth":2.71},{"region":"SW Atl.","value":0.19,"depth":2.95},{"region":"SW Atl.","value":0.05,"depth":3.57},{"region":"SW Atl.","value":-0.79,"depth":3.76},{"region":"SW Atl.","value":-0.27,"depth":3.95},
      {"region":"SE Atl.","value":0.4,"depth":1.39},{"region":"SE Atl.","value":0.17,"depth":1.95},{"region":"SE Atl.","value":0.3,"depth":2.03},{"region":"SE Atl.","value":0.01,"depth":2.64},{"region":"SE Atl.","value":-0.21,"depth":2.84},{"region":"SE Atl.","value":-0.12,"depth":3.18},{"region":"SE Atl.","value":-0.01,"depth":3.16},{"region":"SE Atl.","value":-0.24,"depth":3.32},{"region":"SE Atl.","value":-0.45,"depth":3.72},{"region":"SE Atl.","value":-1.11,"depth":3.79},{"region":"SE Atl.","value":-1.04,"depth":3.79},{"region":"SE Atl.","value":-0.34,"depth":4.22},{"region":"SE Atl.","value":-0.96,"depth":4.72},{"region":"SE Atl.","value":-0.88,"depth":5.01},{"region":"SE Atl.","value":0.15,"depth":2.78},
      {"region":"Eq.E. Atl.","value":0.57,"depth":1.14},{"region":"Eq.E. Atl.","value":0.36,"depth":1.29},{"region":"Eq.E. Atl.","value":0.38,"depth":2.15},{"region":"Eq.E. Atl.","value":0.4,"depth":2.46},{"region":"Eq.E. Atl.","value":0.42,"depth":2.66},{"region":"Eq.E. Atl.","value":0.7,"depth":2.91},{"region":"Eq.E. Atl.","value":0.08,"depth":2.93},{"region":"Eq.E. Atl.","value":-0.05,"depth":3.22},{"region":"Eq.E. Atl.","value":0.49,"depth":3.52},{"region":"Eq.E. Atl.","value":0.12,"depth":4.15},{"region":"Eq.E. Atl.","value":-0.18,"depth":4.72},{"region":"Eq.E. Atl.","value":-0.13,"depth":4.97},{"region":"Eq.E. Atl.","value":0.71,"depth":2.61},
      {"region":"NE Atl.","value":0.91,"depth":1.02},{"region":"NE Atl.","value":0.98,"depth":1.02},{"region":"NE Atl.","value":0.84,"depth":1.34},{"region":"NE Atl.","value":1.39,"depth":1.14},{"region":"NE Atl.","value":1.26,"depth":1.51},{"region":"NE Atl.","value":1.34,"depth":1.49},{"region":"NE Atl.","value":1.66,"depth":1.16},{"region":"NE Atl.","value":0.17,"depth":2.15},{"region":"NE Atl.","value":0.69,"depth":2.05},{"region":"NE Atl.","value":0.79,"depth":2.1},{"region":"NE Atl.","value":0.87,"depth":2.27},{"region":"NE Atl.","value":0.61,"depth":2.44},{"region":"NE Atl.","value":0.77,"depth":2.61},{"region":"NE Atl.","value":0.96,"depth":2.61},{"region":"NE Atl.","value":0.33,"depth":2.61},{"region":"NE Atl.","value":0.17,"depth":3.15},{"region":"NE Atl.","value":0.65,"depth":3.42},{"region":"NE Atl.","value":0.79,"depth":3.49},{"region":"NE Atl.","value":0.14,"depth":3.74},{"region":"NE Atl.","value":-0.04,"depth":3.96},{"region":"NE Atl.","value":0.05,"depth":3.97},{"region":"NE Atl.","value":0.42,"depth":3.95},{"region":"NE Atl.","value":0.24,"depth":4.26},{"region":"NE Atl.","value":-0.44,"depth":4.58},{"region":"NE Atl.","value":-0.06,"depth":4.67},{"region":"NE Atl.","value":0.08,"depth":4.87},
      {"region":"Eq.W. Atl.","value":1.07,"depth":1.11},{"region":"Eq.W. Atl.","value":0.94,"depth":1.34},{"region":"Eq.W. Atl.","value":1.29,"depth":1.27},{"region":"Eq.W. Atl.","value":1.25,"depth":1.38},{"region":"Eq.W. Atl.","value":0.72,"depth":2.34},{"region":"Eq.W. Atl.","value":0.61,"depth":2.66},{"region":"Eq.W. Atl.","value":0.4,"depth":3.03},{"region":"Eq.W. Atl.","value":0.32,"depth":3.09},{"region":"Eq.W. Atl.","value":0.4,"depth":3.18},{"region":"Eq.W. Atl.","value":0.31,"depth":3.32},{"region":"Eq.W. Atl.","value":0.38,"depth":3.42},{"region":"Eq.W. Atl.","value":0.19,"depth":3.54},{"region":"Eq.W. Atl.","value":0.3,"depth":3.54},{"region":"Eq.W. Atl.","value":0.4,"depth":3.54},{"region":"Eq.W. Atl.","value":-0.15,"depth":3.79},{"region":"Eq.W. Atl.","value":-0.05,"depth":3.79},{"region":"Eq.W. Atl.","value":0.06,"depth":3.79},{"region":"Eq.W. Atl.","value":-0.36,"depth":3.97},{"region":"Eq.W. Atl.","value":0.17,"depth":3.99},{"region":"Eq.W. Atl.","value":0.02,"depth":4.33},{"region":"Eq.W. Atl.","value":0.19,"depth":4.35},{"region":"Eq.W. Atl.","value":0.12,"depth":4.55},{"region":"Eq.W. Atl.","value":-0.45,"depth":4.67},
      {"region":"SPNE Atl.","value":1.37,"depth":1.14},{"region":"SPNE Atl.","value":1.59,"depth":1.16},{"region":"SPNE Atl.","value":1.41,"depth":1.59},{"region":"SPNE Atl.","value":1.46,"depth":1.49},{"region":"SPNE Atl.","value":1.57,"depth":1.45},{"region":"SPNE Atl.","value":1.53,"depth":1.63},{"region":"SPNE Atl.","value":1.5,"depth":1.73},{"region":"SPNE Atl.","value":1.33,"depth":1.86},{"region":"SPNE Atl.","value":1.19,"depth":1.86},{"region":"SPNE Atl.","value":1.25,"depth":1.99},{"region":"SPNE Atl.","value":0.98,"depth":1.7},{"region":"SPNE Atl.","value":1.03,"depth":1.98},{"region":"SPNE Atl.","value":0.88,"depth":2.08},{"region":"SPNE Atl.","value":1.05,"depth":2.28},{"region":"SPNE Atl.","value":0.68,"depth":2.19},{"region":"SPNE Atl.","value":0.29,"depth":2.39},{"region":"SPNE Atl.","value":0.56,"depth":2.8},{"region":"SPNE Atl.","value":0.54,"depth":3.28},{"region":"SPNE Atl.","value":1.02,"depth":3.32},{"region":"SPNE Atl.","value":1.07,"depth":3.25},{"region":"SPNE Atl.","value":0.32,"depth":3.88},{"region":"SPNE Atl.","value":0.22,"depth":4.03},
      {"region":"SPNW Atl.","value":1.74,"depth":1.36},{"region":"SPNW Atl.","value":1.44,"depth":1.88},{"region":"SPNW Atl.","value":1.05,"depth":2.54},{"region":"SPNW Atl.","value":0.52,"depth":2.24},{"region":"SPNW Atl.","value":0.45,"depth":2.91},{"region":"SPNW Atl.","value":0.11,"depth":3.35},{"region":"SPNW Atl.","value":0.48,"depth":3.52},{"region":"SPNW Atl.","value":1.25,"depth":3.82},
      {"region":"NW Atl.","value":0.75,"depth":1.8},{"region":"NW Atl.","value":0.88,"depth":3.68},{"region":"NW Atl.","value":0.52,"depth":3.96},{"region":"NW Atl.","value":-0.6,"depth":4.6},{"region":"NW Atl.","value":0.05,"depth":5.03}
    ],
    "LGM_d18O": [
      {"region":"NE Atl.","value":2.23,"depth":1.1},{"region":"NE Atl.","value":2.55,"depth":1.02},{"region":"NE Atl.","value":2.59,"depth":1.18},{"region":"NE Atl.","value":1.64,"depth":2.27},{"region":"NE Atl.","value":2.86,"depth":1.34},{"region":"NE Atl.","value":2.83,"depth":1.49},{"region":"NE Atl.","value":2.98,"depth":1.78},{"region":"NE Atl.","value":3.13,"depth":2.32},{"region":"NE Atl.","value":3.31,"depth":2.57},{"region":"NE Atl.","value":3.54,"depth":2.61},{"region":"NE Atl.","value":3.67,"depth":2.61},{"region":"NE Atl.","value":3.71,"depth":2.26},{"region":"NE Atl.","value":2.59,"depth":3.22},{"region":"NE Atl.","value":3.32,"depth":3.42},{"region":"NE Atl.","value":3.42,"depth":3.39},{"region":"NE Atl.","value":3.38,"depth":3.55},{"region":"NE Atl.","value":2.88,"depth":3.68},{"region":"NE Atl.","value":3.09,"depth":3.99},{"region":"NE Atl.","value":3.38,"depth":3.96},{"region":"NE Atl.","value":3.29,"depth":4.24},{"region":"NE Atl.","value":3.31,"depth":4.6},{"region":"NE Atl.","value":3.38,"depth":4.87},{"region":"NE Atl.","value":3.45,"depth":2.78},
      {"region":"NW Atl.","value":1.79,"depth":1.81},{"region":"NW Atl.","value":3.18,"depth":2.34},{"region":"NW Atl.","value":3.29,"depth":2.96},{"region":"NW Atl.","value":3.18,"depth":3.62},{"region":"NW Atl.","value":2.97,"depth":3.96},{"region":"NW Atl.","value":3.34,"depth":4.13},{"region":"NW Atl.","value":3.38,"depth":4.6},{"region":"NW Atl.","value":3.7,"depth":5.04},
      {"region":"Eq.W. Atl.","value":2.81,"depth":1.09},{"region":"Eq.W. Atl.","value":2.93,"depth":1.38},{"region":"Eq.W. Atl.","value":2.84,"depth":3.05},{"region":"Eq.W. Atl.","value":3.01,"depth":3.14},{"region":"Eq.W. Atl.","value":3.14,"depth":3.15},{"region":"Eq.W. Atl.","value":3.11,"depth":3.32},{"region":"Eq.W. Atl.","value":3.01,"depth":3.55},{"region":"Eq.W. Atl.","value":3.19,"depth":3.81},{"region":"Eq.W. Atl.","value":3.26,"depth":3.79},{"region":"Eq.W. Atl.","value":3.48,"depth":3.81},{"region":"Eq.W. Atl.","value":3.63,"depth":3.41},{"region":"Eq.W. Atl.","value":3.76,"depth":3.79},{"region":"Eq.W. Atl.","value":2.95,"depth":4.35},{"region":"Eq.W. Atl.","value":3.13,"depth":4.33},{"region":"Eq.W. Atl.","value":3.08,"depth":4.55},{"region":"Eq.W. Atl.","value":3.57,"depth":2.42},
      {"region":"SW Atl.","value":3.22,"depth":1.11},{"region":"SW Atl.","value":3.17,"depth":1.65},{"region":"SW Atl.","value":3.05,"depth":2.07},{"region":"SW Atl.","value":3.18,"depth":2.42},{"region":"SW Atl.","value":3.38,"depth":2.35},{"region":"SW Atl.","value":3.48,"depth":2.22},{"region":"SW Atl.","value":3.55,"depth":2.76},{"region":"SW Atl.","value":3.64,"depth":2.95},{"region":"SW Atl.","value":2.84,"depth":3.22},{"region":"SW Atl.","value":3.69,"depth":3.59},{"region":"SW Atl.","value":3.87,"depth":3.93},
      {"region":"SPNE Atl.","value":2.79,"depth":1.14},{"region":"SPNE Atl.","value":2.93,"depth":1.14},{"region":"SPNE Atl.","value":3.26,"depth":1.32},{"region":"SPNE Atl.","value":3.41,"depth":1.49},{"region":"SPNE Atl.","value":3.54,"depth":1.45},{"region":"SPNE Atl.","value":3.52,"depth":1.65},{"region":"SPNE Atl.","value":3.65,"depth":1.65},{"region":"SPNE Atl.","value":3.76,"depth":1.74},{"region":"SPNE Atl.","value":3.11,"depth":1.88},{"region":"SPNE Atl.","value":3.4,"depth":1.83},{"region":"SPNE Atl.","value":3.31,"depth":1.97},{"region":"SPNE Atl.","value":3.27,"depth":2.12},{"region":"SPNE Atl.","value":3.42,"depth":2.1},{"region":"SPNE Atl.","value":3.52,"depth":2.2},{"region":"SPNE Atl.","value":2.93,"depth":2.28},{"region":"SPNE Atl.","value":3.1,"depth":2.28},{"region":"SPNE Atl.","value":3.36,"depth":2.27},{"region":"SPNE Atl.","value":3.7,"depth":2.39},{"region":"SPNE Atl.","value":3.34,"depth":2.46},{"region":"SPNE Atl.","value":3.1,"depth":2.64},{"region":"SPNE Atl.","value":3.28,"depth":2.78},{"region":"SPNE Atl.","value":2.9,"depth":2.8},{"region":"SPNE Atl.","value":3.5,"depth":3.07},{"region":"SPNE Atl.","value":3.19,"depth":3.32},{"region":"SPNE Atl.","value":3.31,"depth":3.62},{"region":"SPNE Atl.","value":3.57,"depth":3.86},{"region":"SPNE Atl.","value":3.44,"depth":3.93},
      {"region":"SPNW Atl.","value":3.33,"depth":1.36},{"region":"SPNW Atl.","value":3.5,"depth":1.86},{"region":"SPNW Atl.","value":3.7,"depth":2.07},{"region":"SPNW Atl.","value":3.84,"depth":2.26},{"region":"SPNW Atl.","value":3.48,"depth":2.55},{"region":"SPNW Atl.","value":3.42,"depth":2.95},{"region":"SPNW Atl.","value":2.82,"depth":3.86},{"region":"SPNW Atl.","value":3.26,"depth":2.19},
      {"region":"Eq.E. Atl.","value":2.7,"depth":1.16},{"region":"Eq.E. Atl.","value":3.15,"depth":1.29},{"region":"Eq.E. Atl.","value":3.38,"depth":1.86},{"region":"Eq.E. Atl.","value":3.15,"depth":2.84},{"region":"Eq.E. Atl.","value":3.32,"depth":3.05},{"region":"Eq.E. Atl.","value":3.44,"depth":3.22},{"region":"Eq.E. Atl.","value":3.05,"depth":3.36},{"region":"Eq.E. Atl.","value":3.03,"depth":3.77},{"region":"Eq.E. Atl.","value":3.15,"depth":4.06},{"region":"Eq.E. Atl.","value":3.11,"depth":4.7},{"region":"Eq.E. Atl.","value":3.02,"depth":4.97},
      {"region":"SE Atl.","value":3.04,"depth":1.38},{"region":"SE Atl.","value":3.11,"depth":2.81},{"region":"SE Atl.","value":3.09,"depth":4.16},{"region":"SE Atl.","value":3.01,"depth":4.7},{"region":"SE Atl.","value":3.18,"depth":5.01},{"region":"SE Atl.","value":3.29,"depth":1.92},{"region":"SE Atl.","value":3.33,"depth":3.76}
    ],
    "LGM_CO3": [
      {"region":"Eq.W. Atl.","value":133.5,"depth":1.1},{"region":"Eq.W. Atl.","value":120.8,"depth":2.42},{"region":"Eq.W. Atl.","value":90.1,"depth":3.57},{"region":"Eq.W. Atl.","value":94.1,"depth":3.59},{"region":"Eq.W. Atl.","value":98.2,"depth":3.57},{"region":"Eq.W. Atl.","value":90.1,"depth":4.02},{"region":"Eq.W. Atl.","value":78.4,"depth":4.72},
      {"region":"SPNE Atl.","value":155.3,"depth":1.16},{"region":"SPNE Atl.","value":134.9,"depth":1.74},{"region":"SPNE Atl.","value":137.4,"depth":1.66},{"region":"SPNE Atl.","value":139.6,"depth":1.63},{"region":"SPNE Atl.","value":134.5,"depth":2.03},{"region":"SPNE Atl.","value":126.9,"depth":2.2},{"region":"SPNE Atl.","value":127.9,"depth":2.17},{"region":"SPNE Atl.","value":132.5,"depth":2.4},{"region":"SPNE Atl.","value":115.4,"depth":2.83},{"region":"SPNE Atl.","value":111.1,"depth":3.33},{"region":"SPNE Atl.","value":71.5,"depth":3.93},{"region":"SPNE Atl.","value":87.7,"depth":4.11},
      {"region":"SW Atl.","value":116.8,"depth":1.86},{"region":"SW Atl.","value":106.7,"depth":2.07},{"region":"SW Atl.","value":121.8,"depth":2.24},
      {"region":"Eq.E. Atl.","value":121.8,"depth":2.7},{"region":"Eq.E. Atl.","value":111.7,"depth":2.98},
      {"region":"SE Atl.","value":101.0,"depth":1.39},{"region":"SE Atl.","value":87.5,"depth":2.82},{"region":"SE Atl.","value":72.3,"depth":3.16},{"region":"SE Atl.","value":79.4,"depth":3.22},{"region":"SE Atl.","value":65.5,"depth":3.69},{"region":"SE Atl.","value":71.5,"depth":3.76},{"region":"SE Atl.","value":68.7,"depth":4.16},{"region":"SE Atl.","value":87.5,"depth":5.01},
      {"region":"NW Atl.","value":101.0,"depth":3.45},
      {"region":"NE Atl.","value":86.5,"depth":3.99}
    ],
    "LGM_eNd": [
      {"region":"Eq.W. Atl.","value":-10.96,"depth":1.1},{"region":"Eq.W. Atl.","value":-9.95,"depth":3.03},{"region":"Eq.W. Atl.","value":-9.89,"depth":3.14},{"region":"Eq.W. Atl.","value":-10.56,"depth":3.28},{"region":"Eq.W. Atl.","value":-9.86,"depth":3.81},{"region":"Eq.W. Atl.","value":-9.55,"depth":4.01},{"region":"Eq.W. Atl.","value":-9.26,"depth":4.35},{"region":"Eq.W. Atl.","value":-9.66,"depth":4.7},
      {"region":"SW Atl.","value":-8.97,"depth":1.03},{"region":"SW Atl.","value":-8.01,"depth":1.11},{"region":"SW Atl.","value":-8.79,"depth":1.28},{"region":"SW Atl.","value":-9.31,"depth":1.49},{"region":"SW Atl.","value":-8.45,"depth":1.63},{"region":"SW Atl.","value":-9.03,"depth":2.07},{"region":"SW Atl.","value":-10.96,"depth":2.22},{"region":"SW Atl.","value":-8.65,"depth":2.3},{"region":"SW Atl.","value":-8.16,"depth":2.74},{"region":"SW Atl.","value":-5.07,"depth":3.76},{"region":"SW Atl.","value":-4.98,"depth":4.14},
      {"region":"SPNE Atl.","value":-9.17,"depth":2.15},
      {"region":"SE Atl.","value":-7.96,"depth":1.38},{"region":"SE Atl.","value":-8.39,"depth":2.46},{"region":"SE Atl.","value":-8.01,"depth":2.44},{"region":"SE Atl.","value":-8.16,"depth":2.81},{"region":"SE Atl.","value":-7.87,"depth":3.01},{"region":"SE Atl.","value":-8.97,"depth":3.2},{"region":"SE Atl.","value":-8.59,"depth":3.16},{"region":"SE Atl.","value":-9.31,"depth":3.65},{"region":"SE Atl.","value":-7.06,"depth":3.33},{"region":"SE Atl.","value":-3.68,"depth":3.33},{"region":"SE Atl.","value":-6.48,"depth":3.77},{"region":"SE Atl.","value":-5.56,"depth":3.76},{"region":"SE Atl.","value":-7.73,"depth":4.2},{"region":"SE Atl.","value":-7.29,"depth":4.64},{"region":"SE Atl.","value":-6.48,"depth":4.72},{"region":"SE Atl.","value":-6.77,"depth":5.01},
      {"region":"NE Atl.","value":-9.03,"depth":1.79},{"region":"NE Atl.","value":-10.04,"depth":3.99},
      {"region":"NW Atl.","value":-10.27,"depth":1.83},{"region":"NW Atl.","value":-9.66,"depth":1.8},{"region":"NW Atl.","value":-10.9,"depth":2.49},{"region":"NW Atl.","value":-10.47,"depth":3.01},{"region":"NW Atl.","value":-11.54,"depth":3.45},{"region":"NW Atl.","value":-10.53,"depth":3.53},{"region":"NW Atl.","value":-10.76,"depth":4.06},{"region":"NW Atl.","value":-10.41,"depth":4.26},{"region":"NW Atl.","value":-11.39,"depth":4.55},{"region":"NW Atl.","value":-10.9,"depth":4.78},{"region":"NW Atl.","value":-12.03,"depth":5.03},{"region":"NW Atl.","value":-8.16,"depth":2.47},
      {"region":"Eq.E. Atl.","value":-11.62,"depth":2.66},{"region":"Eq.E. Atl.","value":-10.12,"depth":2.62},{"region":"Eq.E. Atl.","value":-10.7,"depth":3.28},{"region":"Eq.E. Atl.","value":-10.61,"depth":3.57},
      {"region":"SPNW Atl.","value":-16.01,"depth":3.59},{"region":"SPNW Atl.","value":-16.53,"depth":3.88}
    ],
    "LGM_14C": [
      {"region":"SW Atl.","value":582,"depth":1.27},{"region":"SW Atl.","value":1095,"depth":1.51},{"region":"SW Atl.","value":582,"depth":1.81},
      {"region":"Eq.E. Atl.","value":824,"depth":1.27},
      {"region":"NE Atl.","value":1191,"depth":2.05},{"region":"NE Atl.","value":458,"depth":3.05},{"region":"NE Atl.","value":2231,"depth":3.15},{"region":"NE Atl.","value":3206,"depth":3.15},{"region":"NE Atl.","value":1960,"depth":3.72},{"region":"NE Atl.","value":2195,"depth":4.67},
      {"region":"Eq.W. Atl.","value":1242,"depth":2.34},{"region":"Eq.W. Atl.","value":1997,"depth":2.34},{"region":"Eq.W. Atl.","value":494,"depth":3.54},{"region":"Eq.W. Atl.","value":1667,"depth":3.54},{"region":"Eq.W. Atl.","value":2231,"depth":3.54},{"region":"Eq.W. Atl.","value":655,"depth":3.98},
      {"region":"NW Atl.","value":494,"depth":2.61},{"region":"NW Atl.","value":817,"depth":3.0},{"region":"NW Atl.","value":1301,"depth":3.0},{"region":"NW Atl.","value":1007,"depth":3.88},{"region":"NW Atl.","value":1330,"depth":3.88},{"region":"NW Atl.","value":1352,"depth":3.96},{"region":"NW Atl.","value":1550,"depth":4.26},{"region":"NW Atl.","value":1623,"depth":4.45},{"region":"NW Atl.","value":1425,"depth":4.72},{"region":"NW Atl.","value":1301,"depth":5.03},
      {"region":"SE Atl.","value":1608,"depth":3.0},{"region":"SE Atl.","value":3148,"depth":3.77}
    ]
  },
  "concat": [
    {"data": {"name": "LH_d13C"}, "mark": {"type": "point", "filled": true, "stroke": "black", "strokeWidth": 0.7, "opacity": 1},
     "encoding": {
       "x": {"field": "value", "type": "quantitative", "scale": {"domain": [-1.32, 1.87], "nice": false, "zero": false}, "axis": {"values": [-1, 0, 1], "labels": false, "ticks": false, "title": null}},
       "y": {"field": "depth", "type": "quantitative", "scale": {"domain": [0.82, 5.19], "reverse": true, "nice": false, "zero": false}, "axis": {"values": [1, 2, 3, 4, 5], "title": null}},
       "color": {"field": "region", "type": "nominal", "title": "region:", "scale": {"domain": ["SPNE Atl.", "NW Atl.", "Eq.W. Atl.", "SW Atl.", "SPNW Atl.", "NE Atl.", "Eq.E. Atl.", "SE Atl."], "range": ["#F5C400", "#8C8C8C", "#82A8E0", "#7D6508", "#1F77C4", "#D9574F", "#0E3D6C", "#3A3A3A"]}},
       "shape": {"field": "region", "type": "nominal", "title": "region:", "scale": {"domain": ["SPNE Atl.", "NW Atl.", "Eq.W. Atl.", "SW Atl.", "SPNW Atl.", "NE Atl.", "Eq.E. Atl.", "SE Atl."], "range": ["diamond", "triangle-down", "circle", "diamond", "triangle-up", "square", "triangle-up", "triangle-down"]}},
       "size": {"field": "region", "type": "nominal", "title": "region:", "scale": {"domain": ["SPNE Atl.", "NW Atl.", "Eq.W. Atl.", "SW Atl.", "SPNW Atl.", "NE Atl.", "Eq.E. Atl.", "SE Atl."], "range": [160, 145, 105, 160, 145, 92, 145, 145]}}
     }},
    {"data": {"name": "LH_d18O"}, "mark": {"type": "point", "filled": true, "stroke": "black", "strokeWidth": 0.7, "opacity": 1},
     "encoding": {
       "x": {"field": "value", "type": "quantitative", "scale": {"domain": [1.33, 4.21], "nice": false, "zero": false}, "axis": {"values": [2, 3, 4], "labels": false, "ticks": false, "title": null}},
       "y": {"field": "depth", "type": "quantitative", "scale": {"domain": [0.82, 5.19], "reverse": true, "nice": false, "zero": false}, "axis": {"values": [1, 2, 3, 4, 5], "labels": false, "ticks": false, "title": null}},
       "color": {"field": "region", "type": "nominal", "title": "region:", "scale": {"domain": ["SPNE Atl.", "NW Atl.", "Eq.W. Atl.", "SW Atl.", "SPNW Atl.", "NE Atl.", "Eq.E. Atl.", "SE Atl."], "range": ["#F5C400", "#8C8C8C", "#82A8E0", "#7D6508", "#1F77C4", "#D9574F", "#0E3D6C", "#3A3A3A"]}},
       "shape": {"field": "region", "type": "nominal", "title": "region:", "scale": {"domain": ["SPNE Atl.", "NW Atl.", "Eq.W. Atl.", "SW Atl.", "SPNW Atl.", "NE Atl.", "Eq.E. Atl.", "SE Atl."], "range": ["diamond", "triangle-down", "circle", "diamond", "triangle-up", "square", "triangle-up", "triangle-down"]}},
       "size": {"field": "region", "type": "nominal", "title": "region:", "scale": {"domain": ["SPNE Atl.", "NW Atl.", "Eq.W. Atl.", "SW Atl.", "SPNW Atl.", "NE Atl.", "Eq.E. Atl.", "SE Atl."], "range": [160, 145, 105, 160, 145, 92, 145, 145]}}
     }},
    {"data": {"name": "LH_CO3"}, "mark": {"type": "point", "filled": true, "stroke": "black", "strokeWidth": 0.7, "opacity": 1},
     "encoding": {
       "x": {"field": "value", "type": "quantitative", "scale": {"domain": [61.2, 160.2], "nice": false, "zero": false}, "axis": {"values": [80, 100, 120, 140, 160], "labels": false, "ticks": false, "title": null}},
       "y": {"field": "depth", "type": "quantitative", "scale": {"domain": [0.82, 5.19], "reverse": true, "nice": false, "zero": false}, "axis": {"values": [1, 2, 3, 4, 5], "labels": false, "ticks": false, "title": null}},
       "color": {"field": "region", "type": "nominal", "title": "region:", "scale": {"domain": ["SPNE Atl.", "NW Atl.", "Eq.W. Atl.", "SW Atl.", "SPNW Atl.", "NE Atl.", "Eq.E. Atl.", "SE Atl."], "range": ["#F5C400", "#8C8C8C", "#82A8E0", "#7D6508", "#1F77C4", "#D9574F", "#0E3D6C", "#3A3A3A"]}},
       "shape": {"field": "region", "type": "nominal", "title": "region:", "scale": {"domain": ["SPNE Atl.", "NW Atl.", "Eq.W. Atl.", "SW Atl.", "SPNW Atl.", "NE Atl.", "Eq.E. Atl.", "SE Atl."], "range": ["diamond", "triangle-down", "circle", "diamond", "triangle-up", "square", "triangle-up", "triangle-down"]}},
       "size": {"field": "region", "type": "nominal", "title": "region:", "scale": {"domain": ["SPNE Atl.", "NW Atl.", "Eq.W. Atl.", "SW Atl.", "SPNW Atl.", "NE Atl.", "Eq.E. Atl.", "SE Atl."], "range": [160, 145, 105, 160, 145, 92, 145, 145]}}
     }},
    {"data": {"name": "LH_eNd"}, "mark": {"type": "point", "filled": true, "stroke": "black", "strokeWidth": 0.7, "opacity": 1},
     "encoding": {
       "x": {"field": "value", "type": "quantitative", "scale": {"domain": [-17.2, -3.1], "nice": false, "zero": false}, "axis": {"values": [-16, -12, -8, -4], "labels": false, "ticks": false, "title": null}},
       "y": {"field": "depth", "type": "quantitative", "scale": {"domain": [0.82, 5.19], "reverse": true, "nice": false, "zero": false}, "axis": {"values": [1, 2, 3, 4, 5], "labels": false, "ticks": false, "title": null}},
       "color": {"field": "region", "type": "nominal", "title": "region:", "scale": {"domain": ["SPNE Atl.", "NW Atl.", "Eq.W. Atl.", "SW Atl.", "SPNW Atl.", "NE Atl.", "Eq.E. Atl.", "SE Atl."], "range": ["#F5C400", "#8C8C8C", "#82A8E0", "#7D6508", "#1F77C4", "#D9574F", "#0E3D6C", "#3A3A3A"]}},
       "shape": {"field": "region", "type": "nominal", "title": "region:", "scale": {"domain": ["SPNE Atl.", "NW Atl.", "Eq.W. Atl.", "SW Atl.", "SPNW Atl.", "NE Atl.", "Eq.E. Atl.", "SE Atl."], "range": ["diamond", "triangle-down", "circle", "diamond", "triangle-up", "square", "triangle-up", "triangle-down"]}},
       "size": {"field": "region", "type": "nominal", "title": "region:", "scale": {"domain": ["SPNE Atl.", "NW Atl.", "Eq.W. Atl.", "SW Atl.", "SPNW Atl.", "NE Atl.", "Eq.E. Atl.", "SE Atl."], "range": [160, 145, 105, 160, 145, 92, 145, 145]}}
     }},
    {"data": {"name": "LH_14C"}, "mark": {"type": "point", "filled": true, "stroke": "black", "strokeWidth": 0.7, "opacity": 1},
     "encoding": {
       "x": {"field": "value", "type": "quantitative", "scale": {"domain": [-175, 3330], "nice": false, "zero": false}, "axis": {"values": [0, 1000, 2000, 3000], "labels": false, "ticks": false, "title": null}},
       "y": {"field": "depth", "type": "quantitative", "scale": {"domain": [0.82, 5.19], "reverse": true, "nice": false, "zero": false}, "axis": {"values": [1, 2, 3, 4, 5], "orient": "right", "labels": false, "ticks": false, "title": "LH", "titleAngle": 90, "titleFontWeight": "bold", "titleFontSize": 17, "titlePadding": 5}},
       "color": {"field": "region", "type": "nominal", "title": "region:", "scale": {"domain": ["SPNE Atl.", "NW Atl.", "Eq.W. Atl.", "SW Atl.", "SPNW Atl.", "NE Atl.", "Eq.E. Atl.", "SE Atl."], "range": ["#F5C400", "#8C8C8C", "#82A8E0", "#7D6508", "#1F77C4", "#D9574F", "#0E3D6C", "#3A3A3A"]}},
       "shape": {"field": "region", "type": "nominal", "title": "region:", "scale": {"domain": ["SPNE Atl.", "NW Atl.", "Eq.W. Atl.", "SW Atl.", "SPNW Atl.", "NE Atl.", "Eq.E. Atl.", "SE Atl."], "range": ["diamond", "triangle-down", "circle", "diamond", "triangle-up", "square", "triangle-up", "triangle-down"]}},
       "size": {"field": "region", "type": "nominal", "title": "region:", "scale": {"domain": ["SPNE Atl.", "NW Atl.", "Eq.W. Atl.", "SW Atl.", "SPNW Atl.", "NE Atl.", "Eq.E. Atl.", "SE Atl."], "range": [160, 145, 105, 160, 145, 92, 145, 145]}}
     }},
    {"data": {"name": "HS1_d13C"}, "mark": {"type": "point", "filled": true, "stroke": "black", "strokeWidth": 0.7, "opacity": 1},
     "encoding": {
       "x": {"field": "value", "type": "quantitative", "scale": {"domain": [-1.32, 1.87], "nice": false, "zero": false}, "axis": {"values": [-1, 0, 1], "labels": false, "ticks": false, "title": null}},
       "y": {"field": "depth", "type": "quantitative", "scale": {"domain": [0.82, 5.19], "reverse": true, "nice": false, "zero": false}, "axis": {"values": [1, 2, 3, 4, 5], "title": "water depth (km)"}},
       "color": {"field": "region", "type": "nominal", "title": "region:", "scale": {"domain": ["SPNE Atl.", "NW Atl.", "Eq.W. Atl.", "SW Atl.", "SPNW Atl.", "NE Atl.", "Eq.E. Atl.", "SE Atl."], "range": ["#F5C400", "#8C8C8C", "#82A8E0", "#7D6508", "#1F77C4", "#D9574F", "#0E3D6C", "#3A3A3A"]}},
       "shape": {"field": "region", "type": "nominal", "title": "region:", "scale": {"domain": ["SPNE Atl.", "NW Atl.", "Eq.W. Atl.", "SW Atl.", "SPNW Atl.", "NE Atl.", "Eq.E. Atl.", "SE Atl."], "range": ["diamond", "triangle-down", "circle", "diamond", "triangle-up", "square", "triangle-up", "triangle-down"]}},
       "size": {"field": "region", "type": "nominal", "title": "region:", "scale": {"domain": ["SPNE Atl.", "NW Atl.", "Eq.W. Atl.", "SW Atl.", "SPNW Atl.", "NE Atl.", "Eq.E. Atl.", "SE Atl."], "range": [160, 145, 105, 160, 145, 92, 145, 145]}}
     }},
    {"data": {"name": "HS1_d18O"}, "mark": {"type": "point", "filled": true, "stroke": "black", "strokeWidth": 0.7, "opacity": 1},
     "encoding": {
       "x": {"field": "value", "type": "quantitative", "scale": {"domain": [1.33, 4.21], "nice": false, "zero": false}, "axis": {"values": [2, 3, 4], "labels": false, "ticks": false, "title": null}},
       "y": {"field": "depth", "type": "quantitative", "scale": {"domain": [0.82, 5.19], "reverse": true, "nice": false, "zero": false}, "axis": {"values": [1, 2, 3, 4, 5], "labels": false, "ticks": false, "title": null}},
       "color": {"field": "region", "type": "nominal", "title": "region:", "scale": {"domain": ["SPNE Atl.", "NW Atl.", "Eq.W. Atl.", "SW Atl.", "SPNW Atl.", "NE Atl.", "Eq.E. Atl.", "SE Atl."], "range": ["#F5C400", "#8C8C8C", "#82A8E0", "#7D6508", "#1F77C4", "#D9574F", "#0E3D6C", "#3A3A3A"]}},
       "shape": {"field": "region", "type": "nominal", "title": "region:", "scale": {"domain": ["SPNE Atl.", "NW Atl.", "Eq.W. Atl.", "SW Atl.", "SPNW Atl.", "NE Atl.", "Eq.E. Atl.", "SE Atl."], "range": ["diamond", "triangle-down", "circle", "diamond", "triangle-up", "square", "triangle-up", "triangle-down"]}},
       "size": {"field": "region", "type": "nominal", "title": "region:", "scale": {"domain": ["SPNE Atl.", "NW Atl.", "Eq.W. Atl.", "SW Atl.", "SPNW Atl.", "NE Atl.", "Eq.E. Atl.", "SE Atl."], "range": [160, 145, 105, 160, 145, 92, 145, 145]}}
     }},
    {"data": {"name": "HS1_CO3"}, "mark": {"type": "point", "filled": true, "stroke": "black", "strokeWidth": 0.7, "opacity": 1},
     "encoding": {
       "x": {"field": "value", "type": "quantitative", "scale": {"domain": [61.2, 160.2], "nice": false, "zero": false}, "axis": {"values": [80, 100, 120, 140, 160], "labels": false, "ticks": false, "title": null}},
       "y": {"field": "depth", "type": "quantitative", "scale": {"domain": [0.82, 5.19], "reverse": true, "nice": false, "zero": false}, "axis": {"values": [1, 2, 3, 4, 5], "labels": false, "ticks": false, "title": null}},
       "color": {"field": "region", "type": "nominal", "title": "region:", "scale": {"domain": ["SPNE Atl.", "NW Atl.", "Eq.W. Atl.", "SW Atl.", "SPNW Atl.", "NE Atl.", "Eq.E. Atl.", "SE Atl."], "range": ["#F5C400", "#8C8C8C", "#82A8E0", "#7D6508", "#1F77C4", "#D9574F", "#0E3D6C", "#3A3A3A"]}},
       "shape": {"field": "region", "type": "nominal", "title": "region:", "scale": {"domain": ["SPNE Atl.", "NW Atl.", "Eq.W. Atl.", "SW Atl.", "SPNW Atl.", "NE Atl.", "Eq.E. Atl.", "SE Atl."], "range": ["diamond", "triangle-down", "circle", "diamond", "triangle-up", "square", "triangle-up", "triangle-down"]}},
       "size": {"field": "region", "type": "nominal", "title": "region:", "scale": {"domain": ["SPNE Atl.", "NW Atl.", "Eq.W. Atl.", "SW Atl.", "SPNW Atl.", "NE Atl.", "Eq.E. Atl.", "SE Atl."], "range": [160, 145, 105, 160, 145, 92, 145, 145]}}
     }},
    {"data": {"name": "HS1_eNd"}, "mark": {"type": "point", "filled": true, "stroke": "black", "strokeWidth": 0.7, "opacity": 1},
     "encoding": {
       "x": {"field": "value", "type": "quantitative", "scale": {"domain": [-17.2, -3.1], "nice": false, "zero": false}, "axis": {"values": [-16, -12, -8, -4], "labels": false, "ticks": false, "title": null}},
       "y": {"field": "depth", "type": "quantitative", "scale": {"domain": [0.82, 5.19], "reverse": true, "nice": false, "zero": false}, "axis": {"values": [1, 2, 3, 4, 5], "labels": false, "ticks": false, "title": null}},
       "color": {"field": "region", "type": "nominal", "title": "region:", "scale": {"domain": ["SPNE Atl.", "NW Atl.", "Eq.W. Atl.", "SW Atl.", "SPNW Atl.", "NE Atl.", "Eq.E. Atl.", "SE Atl."], "range": ["#F5C400", "#8C8C8C", "#82A8E0", "#7D6508", "#1F77C4", "#D9574F", "#0E3D6C", "#3A3A3A"]}},
       "shape": {"field": "region", "type": "nominal", "title": "region:", "scale": {"domain": ["SPNE Atl.", "NW Atl.", "Eq.W. Atl.", "SW Atl.", "SPNW Atl.", "NE Atl.", "Eq.E. Atl.", "SE Atl."], "range": ["diamond", "triangle-down", "circle", "diamond", "triangle-up", "square", "triangle-up", "triangle-down"]}},
       "size": {"field": "region", "type": "nominal", "title": "region:", "scale": {"domain": ["SPNE Atl.", "NW Atl.", "Eq.W. Atl.", "SW Atl.", "SPNW Atl.", "NE Atl.", "Eq.E. Atl.", "SE Atl."], "range": [160, 145, 105, 160, 145, 92, 145, 145]}}
     }},
    {"data": {"name": "HS1_14C"}, "mark": {"type": "point", "filled": true, "stroke": "black", "strokeWidth": 0.7, "opacity": 1},
     "encoding": {
       "x": {"field": "value", "type": "quantitative", "scale": {"domain": [-175, 3330], "nice": false, "zero": false}, "axis": {"values": [0, 1000, 2000, 3000], "labels": false, "ticks": false, "title": null}},
       "y": {"field": "depth", "type": "quantitative", "scale": {"domain": [0.82, 5.19], "reverse": true, "nice": false, "zero": false}, "axis": {"values": [1, 2, 3, 4, 5], "orient": "right", "labels": false, "ticks": false, "title": "HS1", "titleAngle": 90, "titleFontWeight": "bold", "titleFontSize": 17, "titlePadding": 5}},
       "color": {"field": "region", "type": "nominal", "title": "region:", "scale": {"domain": ["SPNE Atl.", "NW Atl.", "Eq.W. Atl.", "SW Atl.", "SPNW Atl.", "NE Atl.", "Eq.E. Atl.", "SE Atl."], "range": ["#F5C400", "#8C8C8C", "#82A8E0", "#7D6508", "#1F77C4", "#D9574F", "#0E3D6C", "#3A3A3A"]}},
       "shape": {"field": "region", "type": "nominal", "title": "region:", "scale": {"domain": ["SPNE Atl.", "NW Atl.", "Eq.W. Atl.", "SW Atl.", "SPNW Atl.", "NE Atl.", "Eq.E. Atl.", "SE Atl."], "range": ["diamond", "triangle-down", "circle", "diamond", "triangle-up", "square", "triangle-up", "triangle-down"]}},
       "size": {"field": "region", "type": "nominal", "title": "region:", "scale": {"domain": ["SPNE Atl.", "NW Atl.", "Eq.W. Atl.", "SW Atl.", "SPNW Atl.", "NE Atl.", "Eq.E. Atl.", "SE Atl."], "range": [160, 145, 105, 160, 145, 92, 145, 145]}}
     }},
    {"data": {"name": "LGM_d13C"}, "mark": {"type": "point", "filled": true, "stroke": "black", "strokeWidth": 0.7, "opacity": 1},
     "encoding": {
       "x": {"field": "value", "type": "quantitative", "scale": {"domain": [-1.32, 1.87], "nice": false, "zero": false}, "axis": {"values": [-1, 0, 1], "labelExpr": "'' + datum.value", "title": "δ¹³Cb (‰)"}},
       "y": {"field": "depth", "type": "quantitative", "scale": {"domain": [0.82, 5.19], "reverse": true, "nice": false, "zero": false}, "axis": {"values": [1, 2, 3, 4, 5], "title": null}},
       "color": {"field": "region", "type": "nominal", "title": "region:", "scale": {"domain": ["SPNE Atl.", "NW Atl.", "Eq.W. Atl.", "SW Atl.", "SPNW Atl.", "NE Atl.", "Eq.E. Atl.", "SE Atl."], "range": ["#F5C400", "#8C8C8C", "#82A8E0", "#7D6508", "#1F77C4", "#D9574F", "#0E3D6C", "#3A3A3A"]}},
       "shape": {"field": "region", "type": "nominal", "title": "region:", "scale": {"domain": ["SPNE Atl.", "NW Atl.", "Eq.W. Atl.", "SW Atl.", "SPNW Atl.", "NE Atl.", "Eq.E. Atl.", "SE Atl."], "range": ["diamond", "triangle-down", "circle", "diamond", "triangle-up", "square", "triangle-up", "triangle-down"]}},
       "size": {"field": "region", "type": "nominal", "title": "region:", "scale": {"domain": ["SPNE Atl.", "NW Atl.", "Eq.W. Atl.", "SW Atl.", "SPNW Atl.", "NE Atl.", "Eq.E. Atl.", "SE Atl."], "range": [160, 145, 105, 160, 145, 92, 145, 145]}}
     }},
    {"data": {"name": "LGM_d18O"}, "mark": {"type": "point", "filled": true, "stroke": "black", "strokeWidth": 0.7, "opacity": 1},
     "encoding": {
       "x": {"field": "value", "type": "quantitative", "scale": {"domain": [1.33, 4.21], "nice": false, "zero": false}, "axis": {"values": [2, 3, 4], "labelExpr": "'' + datum.value", "title": "δ¹⁸Ob,ivc (‰)"}},
       "y": {"field": "depth", "type": "quantitative", "scale": {"domain": [0.82, 5.19], "reverse": true, "nice": false, "zero": false}, "axis": {"values": [1, 2, 3, 4, 5], "labels": false, "ticks": false, "title": null}},
       "color": {"field": "region", "type": "nominal", "title": "region:", "scale": {"domain": ["SPNE Atl.", "NW Atl.", "Eq.W. Atl.", "SW Atl.", "SPNW Atl.", "NE Atl.", "Eq.E. Atl.", "SE Atl."], "range": ["#F5C400", "#8C8C8C", "#82A8E0", "#7D6508", "#1F77C4", "#D9574F", "#0E3D6C", "#3A3A3A"]}},
       "shape": {"field": "region", "type": "nominal", "title": "region:", "scale": {"domain": ["SPNE Atl.", "NW Atl.", "Eq.W. Atl.", "SW Atl.", "SPNW Atl.", "NE Atl.", "Eq.E. Atl.", "SE Atl."], "range": ["diamond", "triangle-down", "circle", "diamond", "triangle-up", "square", "triangle-up", "triangle-down"]}},
       "size": {"field": "region", "type": "nominal", "title": "region:", "scale": {"domain": ["SPNE Atl.", "NW Atl.", "Eq.W. Atl.", "SW Atl.", "SPNW Atl.", "NE Atl.", "Eq.E. Atl.", "SE Atl."], "range": [160, 145, 105, 160, 145, 92, 145, 145]}}
     }},
    {"data": {"name": "LGM_CO3"}, "mark": {"type": "point", "filled": true, "stroke": "black", "strokeWidth": 0.7, "opacity": 1},
     "encoding": {
       "x": {"field": "value", "type": "quantitative", "scale": {"domain": [61.2, 160.2], "nice": false, "zero": false}, "axis": {"values": [80, 100, 120, 140, 160], "labelExpr": "'' + datum.value", "title": "CO₃²⁻ (µmol/kg)"}},
       "y": {"field": "depth", "type": "quantitative", "scale": {"domain": [0.82, 5.19], "reverse": true, "nice": false, "zero": false}, "axis": {"values": [1, 2, 3, 4, 5], "labels": false, "ticks": false, "title": null}},
       "color": {"field": "region", "type": "nominal", "title": "region:", "scale": {"domain": ["SPNE Atl.", "NW Atl.", "Eq.W. Atl.", "SW Atl.", "SPNW Atl.", "NE Atl.", "Eq.E. Atl.", "SE Atl."], "range": ["#F5C400", "#8C8C8C", "#82A8E0", "#7D6508", "#1F77C4", "#D9574F", "#0E3D6C", "#3A3A3A"]}},
       "shape": {"field": "region", "type": "nominal", "title": "region:", "scale": {"domain": ["SPNE Atl.", "NW Atl.", "Eq.W. Atl.", "SW Atl.", "SPNW Atl.", "NE Atl.", "Eq.E. Atl.", "SE Atl."], "range": ["diamond", "triangle-down", "circle", "diamond", "triangle-up", "square", "triangle-up", "triangle-down"]}},
       "size": {"field": "region", "type": "nominal", "title": "region:", "scale": {"domain": ["SPNE Atl.", "NW Atl.", "Eq.W. Atl.", "SW Atl.", "SPNW Atl.", "NE Atl.", "Eq.E. Atl.", "SE Atl."], "range": [160, 145, 105, 160, 145, 92, 145, 145]}}
     }},
    {"data": {"name": "LGM_eNd"}, "mark": {"type": "point", "filled": true, "stroke": "black", "strokeWidth": 0.7, "opacity": 1},
     "encoding": {
       "x": {"field": "value", "type": "quantitative", "scale": {"domain": [-17.2, -3.1], "nice": false, "zero": false}, "axis": {"values": [-16, -12, -8, -4], "labelExpr": "'' + datum.value", "title": "εNd"}},
       "y": {"field": "depth", "type": "quantitative", "scale": {"domain": [0.82, 5.19], "reverse": true, "nice": false, "zero": false}, "axis": {"values": [1, 2, 3, 4, 5], "labels": false, "ticks": false, "title": null}},
       "color": {"field": "region", "type": "nominal", "title": "region:", "scale": {"domain": ["SPNE Atl.", "NW Atl.", "Eq.W. Atl.", "SW Atl.", "SPNW Atl.", "NE Atl.", "Eq.E. Atl.", "SE Atl."], "range": ["#F5C400", "#8C8C8C", "#82A8E0", "#7D6508", "#1F77C4", "#D9574F", "#0E3D6C", "#3A3A3A"]}},
       "shape": {"field": "region", "type": "nominal", "title": "region:", "scale": {"domain": ["SPNE Atl.", "NW Atl.", "Eq.W. Atl.", "SW Atl.", "SPNW Atl.", "NE Atl.", "Eq.E. Atl.", "SE Atl."], "range": ["diamond", "triangle-down", "circle", "diamond", "triangle-up", "square", "triangle-up", "triangle-down"]}},
       "size": {"field": "region", "type": "nominal", "title": "region:", "scale": {"domain": ["SPNE Atl.", "NW Atl.", "Eq.W. Atl.", "SW Atl.", "SPNW Atl.", "NE Atl.", "Eq.E. Atl.", "SE Atl."], "range": [160, 145, 105, 160, 145, 92, 145, 145]}}
     }},
    {"data": {"name": "LGM_14C"}, "mark": {"type": "point", "filled": true, "stroke": "black", "strokeWidth": 0.7, "opacity": 1},
     "encoding": {
       "x": {"field": "value", "type": "quantitative", "scale": {"domain": [-175, 3330], "nice": false, "zero": false}, "axis": {"values": [0, 1000, 2000, 3000], "labelExpr": "'' + datum.value", "title": "¹⁴Cb-atm (years)"}},
       "y": {"field": "depth", "type": "quantitative", "scale": {"domain": [0.82, 5.19], "reverse": true, "nice": false, "zero": false}, "axis": {"values": [1, 2, 3, 4, 5], "orient": "right", "labels": false, "ticks": false, "title": "LGM", "titleAngle": 90, "titleFontWeight": "bold", "titleFontSize": 17, "titlePadding": 5}},
       "color": {"field": "region", "type": "nominal", "title": "region:", "scale": {"domain": ["SPNE Atl.", "NW Atl.", "Eq.W. Atl.", "SW Atl.", "SPNW Atl.", "NE Atl.", "Eq.E. Atl.", "SE Atl."], "range": ["#F5C400", "#8C8C8C", "#82A8E0", "#7D6508", "#1F77C4", "#D9574F", "#0E3D6C", "#3A3A3A"]}},
       "shape": {"field": "region", "type": "nominal", "title": "region:", "scale": {"domain": ["SPNE Atl.", "NW Atl.", "Eq.W. Atl.", "SW Atl.", "SPNW Atl.", "NE Atl.", "Eq.E. Atl.", "SE Atl."], "range": ["diamond", "triangle-down", "circle", "diamond", "triangle-up", "square", "triangle-up", "triangle-down"]}},
       "size": {"field": "region", "type": "nominal", "title": "region:", "scale": {"domain": ["SPNE Atl.", "NW Atl.", "Eq.W. Atl.", "SW Atl.", "SPNW Atl.", "NE Atl.", "Eq.E. Atl.", "SE Atl."], "range": [160, 145, 105, 160, 145, 92, 145, 145]}}
     }}
  ],
  "config": {
    "font": "Liberation Sans",
    "background": "white",
    "view": {"continuousWidth": 232, "continuousHeight": 216, "stroke": "#333333", "strokeWidth": 1.2},
    "axis": {"grid": true, "gridColor": "#ebebeb", "gridWidth": 1, "domain": false, "tickColor": "#333333", "tickSize": 4, "tickWidth": 1, "labelColor": "#333333", "labelFontSize": 16, "labelPadding": 3, "labelFlush": false, "titleFontSize": 16, "titleFontWeight": "normal", "titleColor": "black", "titlePadding": 8},
    "axisLeft": {"titleFontSize": 21, "titlePadding": 7},
    "legend": {"orient": "none", "legendX": 286, "legendY": 748, "direction": "horizontal", "columns": 4, "gridAlign": "all", "titleOrient": "left", "titleFontSize": 27, "titleFontWeight": "normal", "titleColor": "black", "titleAnchor": "middle", "titleBaseline": "middle", "titlePadding": 10, "labelFontSize": 18.5, "labelColor": "black", "strokeColor": "black", "padding": 5, "columnPadding": 14, "rowPadding": 0, "symbolStrokeColor": "black", "symbolStrokeWidth": 0.8, "labelOffset": 10}
  }
}
